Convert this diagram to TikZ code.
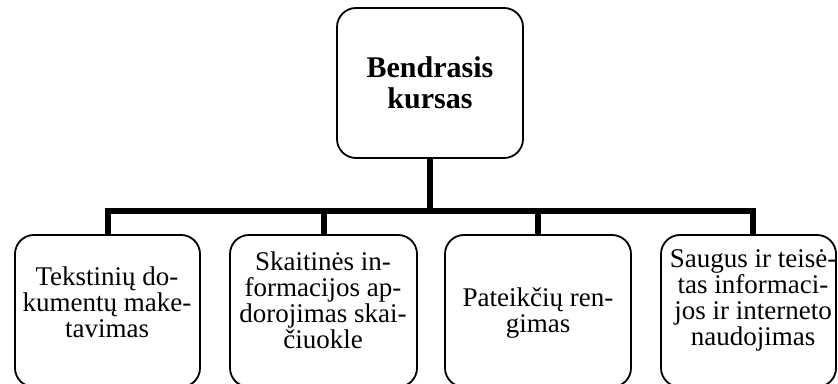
\documentclass[tikz,border=0pt]{standalone}
\usepackage{fontspec}
\setmainfont{Liberation Serif}
\usetikzlibrary{positioning}

\providecommand{\orgBoxLineWidth}{1.8pt}
\providecommand{\orgBoxRadius}{19pt}
\providecommand{\orgTrunkWidth}{6pt}

\tikzset{
  rootbox/.style={draw, line width=\orgBoxLineWidth, rounded corners=\orgBoxRadius,
    minimum width=186pt, minimum height=150pt, inner sep=0pt, align=center,
    font=\fontsize{30}{31}\selectfont\bfseries},
  leafbox/.style={draw, line width=\orgBoxLineWidth, rounded corners=\orgBoxRadius,
    minimum height=152pt, inner sep=0pt},
  leaftext/.style={align=center, inner sep=0pt, font=\fontsize{27}{26}\selectfont},
  trunk/.style={line width=\orgTrunkWidth, line join=miter}
}

\begin{document}
\begin{tikzpicture}[x=1pt, y=1pt]
\useasboundingbox (0,0) rectangle (838,383);
% Root of the course tree
\node[rootbox] (root) at (430,300) {Bendrasis\\kursas};
% Leaf frames
\node[leafbox, minimum width=185pt] (b1) at (107.5,72) {};
\node[leafbox, minimum width=187pt] (b2) at (323.5,72) {};
\node[leafbox, minimum width=186pt] (b3) at (538,72) {};
\node[leafbox, minimum width=175pt] (b4) at (748.5,72) {};
% Leaf texts
\node[leaftext] (t1) at (107,81) {Tekstinių do-\\kumentų make-\\tavimas};
\node[leaftext] (t2) at (323,83) {Skaitinės in-\\formacijos ap-\\dorojimas skai-\\čiuokle};
\node[leaftext] (t3) at (538,69.5) {Pateikčių ren-\\gimas};
\node[leaftext] (t4) at (753,83) {Saugus ir teisė-\\tas informaci-\\jos ir interneto\\naudojimas};
% Connectors
\coordinate (bar) at ([yshift=-52pt]root.south);
\draw[trunk] (root.south) -- (bar);
\draw[trunk] (b1.north) -- (bar -| b1.north) -- (bar -| t4) -- (t4 |- b4.north);
\draw[trunk] (bar -| b2.north) -- (b2.north);
\draw[trunk] (bar -| b3.north) -- (b3.north);
\end{tikzpicture}
\end{document}
